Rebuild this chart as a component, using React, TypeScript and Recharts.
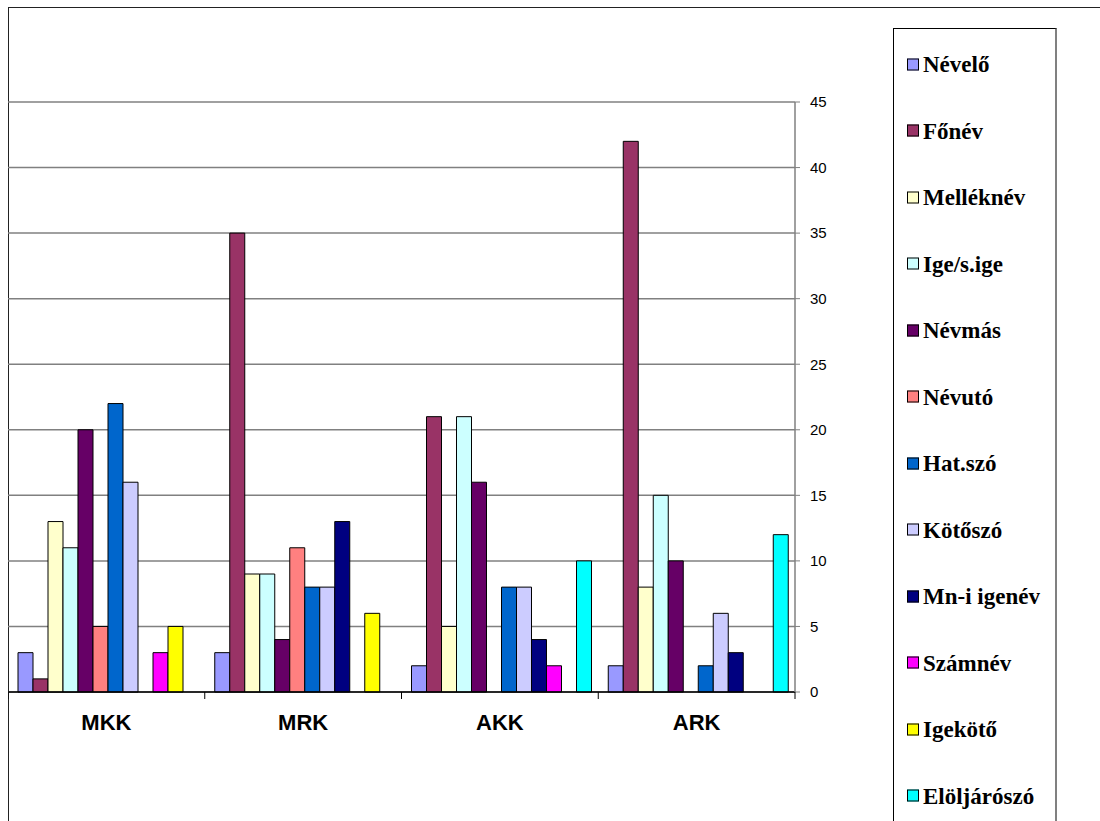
import React from 'react';
import { BarChart, Bar, XAxis, YAxis, CartesianGrid, Legend } from 'recharts';

const categories = ['MKK', 'MRK', 'AKK', 'ARK'];

// counts per category, in the order of `categories`
const nevelo = [3, 3, 2, 2];
const fonev = [1, 35, 21, 42];
const melleknev = [13, 9, 5, 8];
const ige = [11, 9, 21, 15];
const nevmas = [20, 4, 16, 10];
const nevuto = [5, 11, 0, 0];
const hatarozoszo = [22, 8, 8, 2];
const kotoszo = [16, 8, 8, 6];
const mnIgenev = [0, 13, 4, 3];
const szamnev = [3, 0, 2, 0];
const igekoto = [5, 6, 0, 0];
const eloljaroszo = [0, 0, 10, 12];

const yTicks = [0, 5, 10, 15, 20, 25, 30, 35, 40, 45];

const series = [
  { key: 'nevelo', name: 'Névelő', color: '#9999FF', values: nevelo },
  { key: 'fonev', name: 'Főnév', color: '#993366', values: fonev },
  { key: 'melleknev', name: 'Melléknév', color: '#FFFFCC', values: melleknev },
  { key: 'ige', name: 'Ige/s.ige', color: '#CCFFFF', values: ige },
  { key: 'nevmas', name: 'Névmás', color: '#660066', values: nevmas },
  { key: 'nevuto', name: 'Névutó', color: '#FF8080', values: nevuto },
  { key: 'hatarozoszo', name: 'Hat.szó', color: '#0066CC', values: hatarozoszo },
  { key: 'kotoszo', name: 'Kötőszó', color: '#CCCCFF', values: kotoszo },
  { key: 'mnIgenev', name: 'Mn-i igenév', color: '#000080', values: mnIgenev },
  { key: 'szamnev', name: 'Számnév', color: '#FF00FF', values: szamnev },
  { key: 'igekoto', name: 'Igekötő', color: '#FFFF00', values: igekoto },
  { key: 'eloljaroszo', name: 'Elöljárószó', color: '#00FFFF', values: eloljaroszo },
];

const data = categories.map((cat, i) => {
  const row: Record<string, string | number> = { cat };
  series.forEach(s => { row[s.key] = s.values[i]; });
  return row;
});

const W = 1092;
const H = 814;
const PLOT_W = 787;
const HALF_BAND = PLOT_W / categories.length / 2;
const SERIF = '"Liberation Serif", "DejaVu Serif", "Times New Roman", Times, serif';

// category label with tick marks on the band edges instead of the centre
function CategoryTick(props: any) {
  const { x, y, payload, index } = props;
  const left = x - HALF_BAND;
  return (
    <g>
      <line x1={left} y1={y} x2={left} y2={y + 7} stroke="#000" />
      {index === categories.length - 1 && (
        <line x1={x + HALF_BAND} y1={y} x2={x + HALF_BAND} y2={y + 7} stroke="#000" />
      )}
      <text
        x={x}
        y={y + 30}
        textAnchor="middle"
        dominantBaseline="central"
        fontFamily="Arial, 'Liberation Sans', sans-serif"
        fontWeight="bold"
        fontSize={22}
        fill="#000"
      >
        {payload.value}
      </text>
    </g>
  );
}

function LegendBox() {
  return (
    <div
      style={{
        boxSizing: 'border-box',
        width: 164,
        height: 800,
        border: '1px solid #000',
        borderRight: '2px solid #808080',
        background: '#fff',
        position: 'relative',
        fontFamily: SERIF,
      }}
    >
      {series.map((s, i) => (
        <div
          key={s.key}
          style={{
            position: 'absolute',
            left: 13,
            top: 35 + i * 66.5,
            transform: 'translateY(-50%)',
            display: 'flex',
            alignItems: 'center',
            whiteSpace: 'nowrap',
          }}
        >
          <span
            style={{
              display: 'inline-block',
              boxSizing: 'border-box',
              width: 12,
              height: 12,
              background: s.color,
              border: '1px solid #000',
              marginRight: 4,
            }}
          />
          <span
            style={{
              fontFamily: SERIF,
              fontWeight: 700,
              fontSize: 23,
              color: '#000',
              lineHeight: 1,
            }}
          >
            {s.name}
          </span>
        </div>
      ))}
    </div>
  );
}

export default function App() {
  return (
    <div style={{ position: 'absolute', left: 8, top: 7, width: W, height: H }}>
      <div
        style={{
          position: 'absolute',
          left: 0,
          top: 0,
          width: W,
          height: H,
          borderLeft: '1.5px solid #222',
          borderTop: '1.5px solid #222',
          boxSizing: 'border-box',
        }}
      />
      <div style={{ position: 'absolute', left: 0, top: 0 }}>
        <BarChart
          width={W}
          height={H}
          data={data}
          margin={{ top: 95, right: 255, bottom: 69, left: 0 }}
          barCategoryGap={10}
          barGap={0}
        >
          <CartesianGrid horizontal vertical={false} stroke="#808080" strokeWidth={1.5} />
          <XAxis
            dataKey="cat"
            height={60}
            axisLine={{ stroke: '#000', strokeWidth: 1.5 }}
            tickLine={false}
            tickSize={0}
            tickMargin={0}
            tick={<CategoryTick />}
            interval={0}
          />
          <YAxis
            orientation="right"
            width={50}
            domain={[0, 45]}
            ticks={yTicks}
            interval={0}
            axisLine={{ stroke: '#808080', strokeWidth: 1.5 }}
            tickLine={{ stroke: '#808080' }}
            tickSize={5}
            tickMargin={10}
            tick={{ fill: '#000', fontSize: 15, fontFamily: "Arial, 'Liberation Sans', sans-serif", textAnchor: 'start' }}
          />
          <Legend
            layout="vertical"
            align="center"
            verticalAlign="middle"
            content={<LegendBox />}
            wrapperStyle={{ left: 885, top: 21, width: 164, height: 800 }}
          />
          {series.map(s => (
            <Bar
              key={s.key}
              dataKey={s.key}
              name={s.name}
              fill={s.color}
              stroke="#000"
              strokeWidth={1}
              isAnimationActive={false}
            />
          ))}
        </BarChart>
      </div>
    </div>
  );
}
